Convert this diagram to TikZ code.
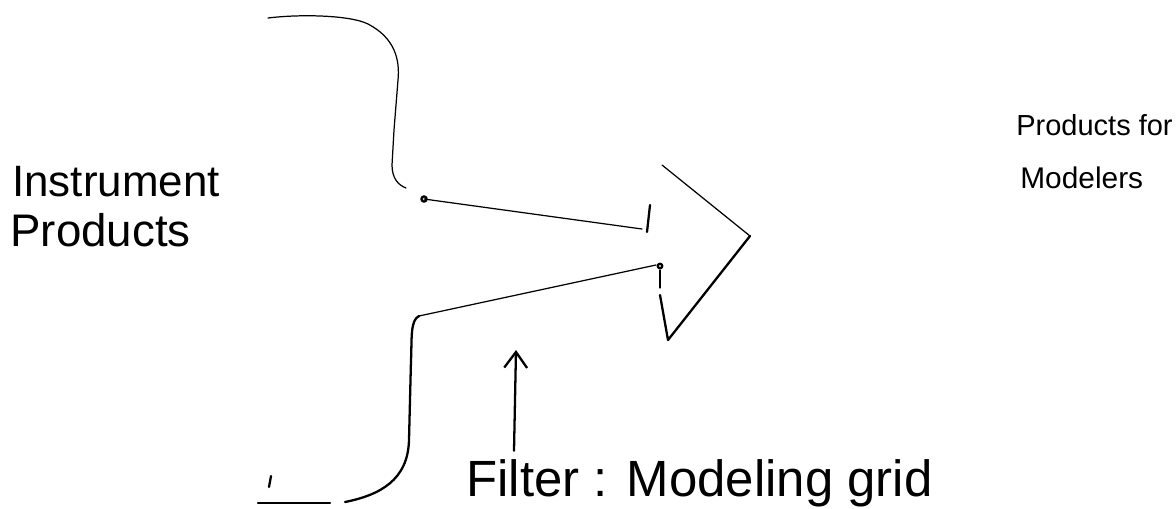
\documentclass[tikz,border=0pt]{standalone}
\usepackage{fontspec}
\setmainfont{Liberation Sans}
\definecolor{inkblack}{RGB}{0,0,0}
\usetikzlibrary{arrows.meta,positioning,calc}

\begin{document}
\begin{tikzpicture}[x=0.02cm,y=-0.02cm,
    pen/.style={draw=inkblack,line width=1.3pt,line cap=round,line join=round},
    faint/.style={draw=inkblack,line width=0.7pt,line cap=round,line join=round},
    hand/.style={inner sep=0pt,anchor=base west,text=inkblack}]
  \useasboundingbox (0,0) rectangle (1176,508);
  % labels
  \node[hand,font=\fontsize{25}{28}\selectfont] (instr) at (12,196) {Instrument};
  \node[hand,font=\fontsize{26}{28}\selectfont] (prodin) at (10,246) {Products};
  \node[hand,font=\fontsize{16.5}{18}\selectfont] (prodout) at (1016,135) {Products for};
  \node[hand,font=\fontsize{17}{18}\selectfont] (modelers) at (1020,188) {Modelers};
  \node[hand,font=\fontsize{29}{32}\selectfont] (filter) at (466,496) {Filter : Modeling grid};
  % outline points
  \coordinate (topa) at (268,18);
  \coordinate (topb) at (392,165);
  \coordinate (upin) at (424,199);
  \coordinate (upend) at (642,229);
  \coordinate (lowin) at (419,316);
  \coordinate (lowend) at (656,265);
  \coordinate (tipup) at (662,165);
  \coordinate (tip) at (750,236);
  \coordinate (tiplow) at (668,340);
  \coordinate (basea) at (258,503);
  \coordinate (target) at (516,350);
  % upper bend
  \draw[faint] (topa) .. controls (300,14) and (350,15) .. (368,24)
    .. controls (395,38) and (400,60) .. (398,80)
    -- (394,130) -- (topb) .. controls (392,178) and (398,185) .. (406,188);
  \draw[pen] (upin) circle (1.5pt);
  \draw[faint] (upin) -- (upend);
  \draw[pen] (650,205) -- (647,232);
  % head
  \draw[faint] (tipup) -- (tip);
  \draw[pen] (tip) -- (tiplow) -- (660,295);
  \draw[faint] (660,270) -- (660,288);
  \draw[pen] (660,266) circle (1.3pt);
  \draw[faint] (lowend) -- (lowin);
  % lower bend
  \draw[pen] (lowin) .. controls (410,320) and (412,340) .. (411,360)
    -- (409,440) .. controls (408,480) and (380,495) .. (345,502);
  \draw[pen] (basea) -- (330,503);
  \draw[pen] (271,476) -- (269,487);
  % pointer
  \draw[pen,-{Straight Barb[length=9pt,width=13pt]}] ($(filter.north west)+(48,-8)$) -- (target);
\end{tikzpicture}
\end{document}
